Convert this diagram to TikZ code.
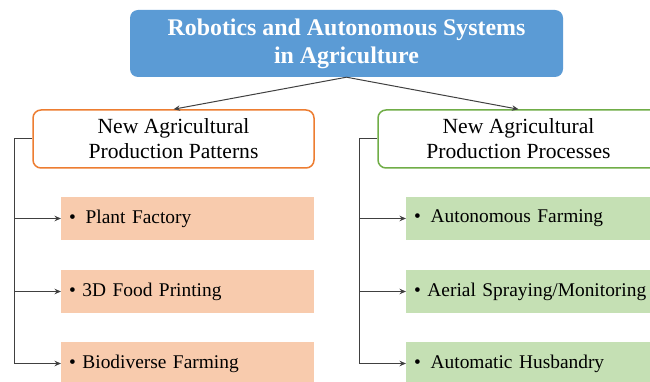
\documentclass[tikz,border=0pt]{standalone}
\usepackage{fontspec}
\setmainfont{Liberation Serif}
\usetikzlibrary{arrows.meta}

\definecolor{titleblue}{HTML}{5B9BD5}
\definecolor{patorange}{HTML}{ED7D31}
\definecolor{procgreen}{HTML}{70AD47}
\definecolor{itemorange}{HTML}{F8CBAD}
\definecolor{itemgreen}{HTML}{C5E0B4}
\definecolor{linkgray}{HTML}{404040}

\tikzset{
  titlebox/.style={rectangle, rounded corners=8pt, fill=titleblue, text=white,
    minimum width=433pt, minimum height=67pt, align=center,
    font=\fontsize{23.9}{28}\selectfont\bfseries},
  headbox/.style={rectangle, rounded corners=8pt, fill=white, line width=1.5pt,
    minimum width=281pt, minimum height=58pt, align=center,
    font=\fontsize{21.6}{25}\selectfont},
  itembox/.style={rectangle, anchor=west, minimum height=43pt, text width=237pt,
    inner xsep=8pt, align=left, font=\fontsize{19.4}{23}\selectfont},
  link/.style={draw=linkgray, line width=1pt},
  linkarrow/.style={link, -{Stealth[length=6.5pt,width=5.5pt]}}
}

\begin{document}
\begin{tikzpicture}[x=1pt,y=-1pt]
  \useasboundingbox (0,0) rectangle (650,382);

  \node[titlebox] (ras) at (346.5,43.5) {Robotics and Autonomous Systems\\in Agriculture};

  \node[headbox, draw=patorange] (pat) at (173.5,139) {New Agricultural\\Production Patterns};
  \node[headbox, draw=procgreen] (proc) at (518.5,139) {New Agricultural\\Production Processes};

  \node[itembox, fill=itemorange] (pf) at (61,218.5) {•\enspace Plant Factory};
  \node[itembox, fill=itemorange] (fp) at (61,291.5) {• 3D Food Printing};
  \node[itembox, fill=itemorange] (bf) at (61,363.5) {• Biodiverse Farming};

  \node[itembox, fill=itemgreen, text width=260pt] (af) at (406,218.5) {•\enspace Autonomous Farming};
  \node[itembox, fill=itemgreen, text width=260pt] (as) at (406,291.5) {• Aerial Spraying/Monitoring};
  \node[itembox, fill=itemgreen, text width=260pt] (ah) at (406,363.5) {•\enspace Automatic Husbandry};

  \draw[linkarrow] (ras.south) -- (pat.north);
  \draw[linkarrow] (ras.south) -- (proc.north);

  \coordinate (lbus) at (14,139);
  \coordinate (rbus) at (359,139);
  \draw[link] (pat.west) -- (lbus) -- (lbus |- bf.west);
  \draw[link] (proc.west) -- (rbus) -- (rbus |- ah.west);
  \foreach \item in {pf,fp,bf}
    \draw[linkarrow] (lbus |- \item.west) -- (\item.west);
  \foreach \item in {af,as,ah}
    \draw[linkarrow] (rbus |- \item.west) -- (\item.west);
\end{tikzpicture}
\end{document}
